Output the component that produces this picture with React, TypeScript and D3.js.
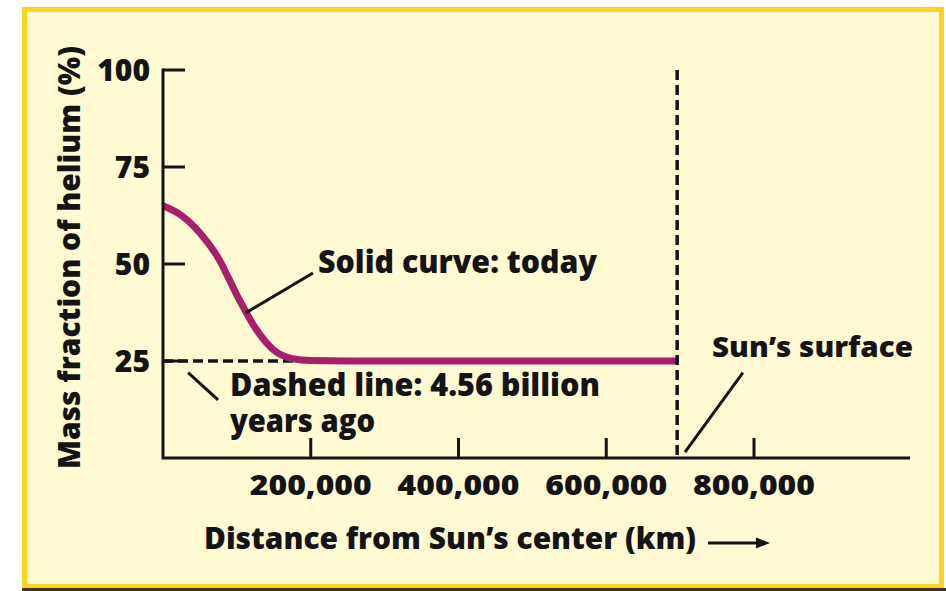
import React from "react";
import * as d3 from "d3";

// ---- data ----
const yTicks = [25, 50, 75, 100];
const xTicks = [200000, 400000, 600000, 800000];
const todayDistance = [0, 25000, 50000, 75000, 100000, 125000, 150000, 175000, 200000, 250000, 696000];
const todayHelium = [65, 62.5, 58, 51.5, 42, 33.5, 27.8, 25.6, 25.1, 25, 25];
const pastDistance = [0, 696000];
const pastHelium = [25, 25];
const sunRadius = 696000;

const W = 946;
const H = 591;
const FONT = "'Open Sans', 'Noto Sans', sans-serif";
const INK = "#141414";

export default function App() {
  const x = d3.scaleLinear().domain([0, 800000]).range([163, 754]);
  const y = d3.scaleLinear().domain([0, 100]).range([458, 70]);
  const xEnd = 910;

  const line = d3
    .line<[number, number]>()
    .x((d) => x(d[0]))
    .y((d) => y(d[1]))
    .curve(d3.curveMonotoneX);

  const straight = d3
    .line<[number, number]>()
    .x((d) => x(d[0]))
    .y((d) => y(d[1]));

  const today: [number, number][] = todayDistance.map((d, i) => [d, todayHelium[i]]);
  const past: [number, number][] = pastDistance.map((d, i) => [d, pastHelium[i]]);

  const fmt = d3.format(",");

  // annotation leader lines in data units
  const leaders: [number, number, number, number][] = [
    [112000, 37.4, 203000, 47.7],
    [34000, 22, 74500, 15],
    [785000, 22, 706600, 1.5],
  ];

  return (
    <svg
      width={W}
      height={H}
      style={{ position: "fixed", left: 0, top: 0, background: "#ffffff" }}
      fontFamily={FONT}
      fontWeight={700}
    >
      <rect x={0} y={0} width={W} height={H} fill="#ffffff" />
      <rect x={24.5} y={9.5} width={917} height={577} fill="#FFFAD2" stroke="#FFD21E" strokeWidth={5} />
      <rect x={22} y={588} width={924} height={3} fill="#3a3320" />

      {/* past dashed line at 25% */}
      <path d={straight(past) || ""} fill="none" stroke={INK} strokeWidth={3.5} strokeDasharray="10,5" />

      {/* today curve */}
      <path d={line(today) || ""} fill="none" stroke="#A81F6E" strokeWidth={7} strokeLinecap="butt" />

      {/* sun surface dashed vertical */}
      <line
        x1={x(sunRadius)}
        x2={x(sunRadius)}
        y1={y(100)}
        y2={y(0)}
        stroke={INK}
        strokeWidth={3.5}
        strokeDasharray="10,5"
      />

      {/* axes */}
      <path
        d={`M${x(0)},${y(100) - 1.5}V${y(0)}H${xEnd}`}
        fill="none"
        stroke={INK}
        strokeWidth={3}
      />
      {yTicks.map((t) => (
        <g key={"y" + t}>
          <line x1={x(0)} x2={x(0) + 22} y1={y(t)} y2={y(t)} stroke={INK} strokeWidth={3} />
          <text x={150} y={y(t) + 11} textAnchor="end" fontSize={30} fontWeight={800} fill={INK}>
            {t}
          </text>
        </g>
      ))}
      {xTicks.map((t) => (
        <g key={"x" + t}>
          <line x1={x(t)} x2={x(t)} y1={y(0)} y2={y(0) - 20} stroke={INK} strokeWidth={3} />
          <text
            x={x(t) - 61}
            y={495}
            fontSize={29}
            fontWeight={800}
            fill={INK}
            textLength={122}
            lengthAdjust="spacingAndGlyphs"
          >
            {fmt(t)}
          </text>
        </g>
      ))}

      {/* leader lines */}
      {leaders.map((l, i) => (
        <line key={"l" + i} x1={x(l[0])} y1={y(l[1])} x2={x(l[2])} y2={y(l[3])} stroke={INK} strokeWidth={3} />
      ))}

      {/* annotations */}
      <g fontWeight={800}>
        <text x={318} y={273} fontSize={31} fill={INK} textLength={279} lengthAdjust="spacingAndGlyphs">
          Solid curve: today
        </text>
        <text x={230} y={396} fontSize={31} fill={INK} textLength={370} lengthAdjust="spacingAndGlyphs">
          Dashed line: 4.56 billion
        </text>
        <text x={230} y={432} fontSize={31} fill={INK} textLength={145} lengthAdjust="spacingAndGlyphs">
          years ago
        </text>
        <text x={712} y={357} fontSize={29} fill={INK} textLength={201} lengthAdjust="spacingAndGlyphs">
          Sun’s surface
        </text>

        {/* axis titles */}
        <text x={204} y={549} fontSize={30} fill={INK} textLength={492} lengthAdjust="spacingAndGlyphs">
          Distance from Sun’s center (km)
        </text>
        <text
          transform="translate(80,258) rotate(-90)"
          x={-211}
          y={0}
          fontSize={30}
          fill={INK}
          textLength={423}
          lengthAdjust="spacingAndGlyphs"
        >
          Mass fraction of helium (%)
        </text>
      </g>
      <line x1={708} x2={760} y1={543} y2={543} stroke={INK} strokeWidth={3} />
      <path d="M770,543 L756,537.5 L756,548.5 Z" fill={INK} />
    </svg>
  );
}
